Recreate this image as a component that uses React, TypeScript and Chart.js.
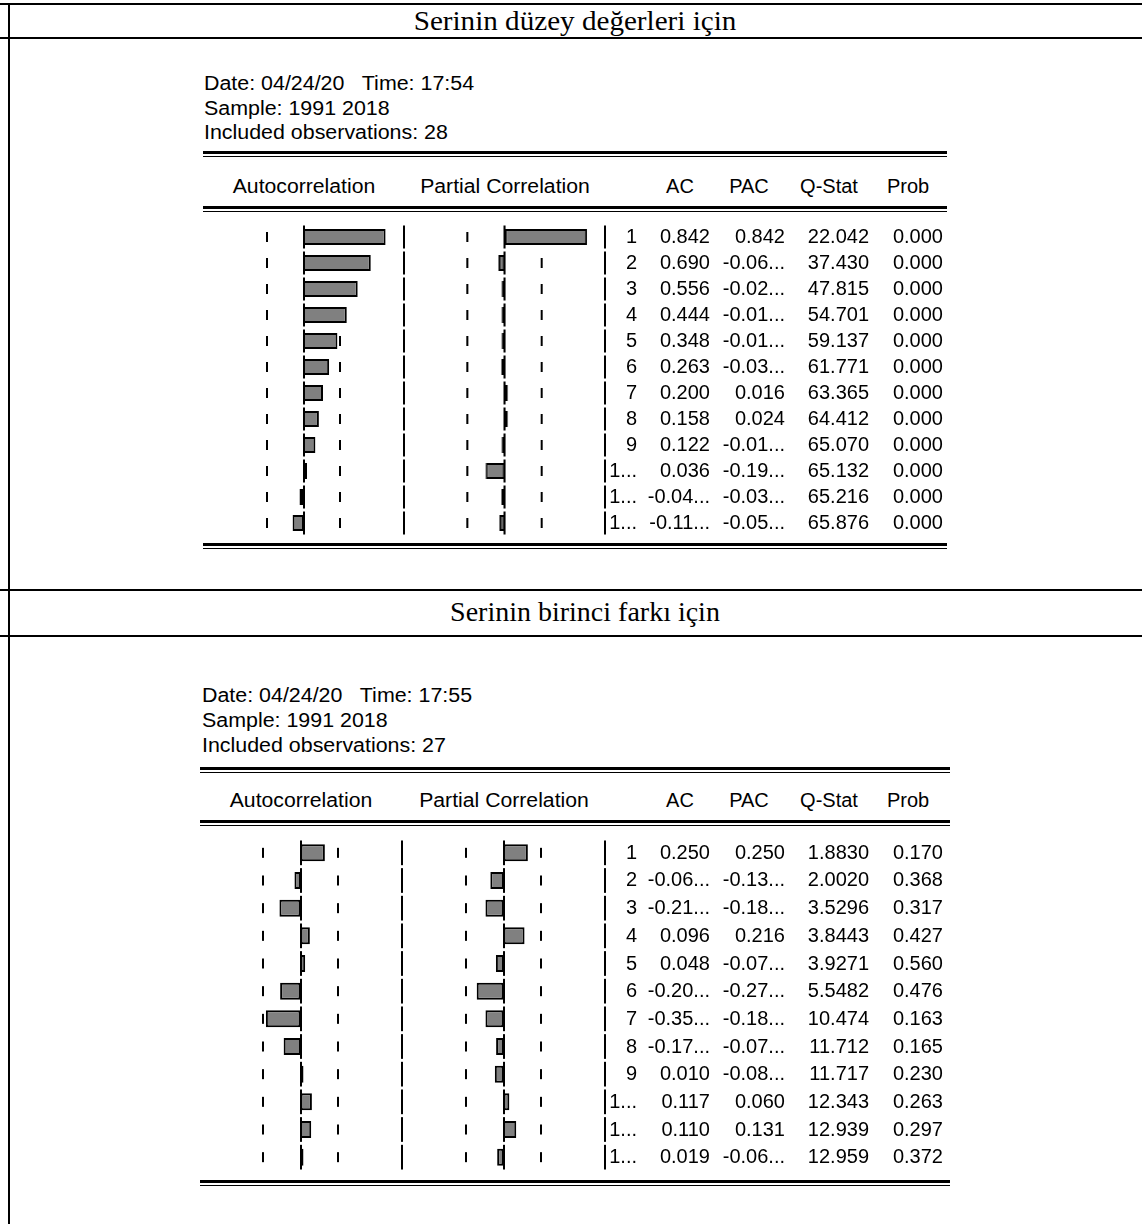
import React, { useEffect, useRef } from "react";
import { Chart, registerables } from "chart.js";

Chart.register(...registerables);

// ---------- data ----------
const lags = [1, 2, 3, 4, 5, 6, 7, 8, 9, 10, 11, 12];
const lagLabels = ["1", "2", "3", "4", "5", "6", "7", "8", "9", "1...", "1...", "1..."];

// Table 1: levels (n = 28)
const ac1 = [0.842, 0.69, 0.556, 0.444, 0.348, 0.263, 0.2, 0.158, 0.122, 0.036, -0.041, -0.112];
const pac1 = [0.842, -0.065, -0.025, -0.012, -0.013, -0.035, 0.016, 0.024, -0.014, -0.195, -0.034, -0.055];
const acText1 = ["0.842", "0.690", "0.556", "0.444", "0.348", "0.263", "0.200", "0.158", "0.122", "0.036", "-0.04...", "-0.11..."];
const pacText1 = ["0.842", "-0.06...", "-0.02...", "-0.01...", "-0.01...", "-0.03...", "0.016", "0.024", "-0.01...", "-0.19...", "-0.03...", "-0.05..."];
const qStat1 = ["22.042", "37.430", "47.815", "54.701", "59.137", "61.771", "63.365", "64.412", "65.070", "65.132", "65.216", "65.876"];
const prob1 = ["0.000", "0.000", "0.000", "0.000", "0.000", "0.000", "0.000", "0.000", "0.000", "0.000", "0.000", "0.000"];
const bound1 = 0.378;

// Table 2: first difference (n = 27)
const ac2 = [0.25, -0.062, -0.216, 0.096, 0.048, -0.209, -0.355, -0.173, 0.01, 0.117, 0.11, 0.019];
const pac2 = [0.25, -0.135, -0.185, 0.216, -0.078, -0.275, -0.185, -0.076, -0.089, 0.06, 0.131, -0.065];
const acText2 = ["0.250", "-0.06...", "-0.21...", "0.096", "0.048", "-0.20...", "-0.35...", "-0.17...", "0.010", "0.117", "0.110", "0.019"];
const pacText2 = ["0.250", "-0.13...", "-0.18...", "0.216", "-0.07...", "-0.27...", "-0.18...", "-0.07...", "-0.08...", "0.060", "0.131", "-0.06..."];
const qStat2 = ["1.8830", "2.0020", "3.5296", "3.8443", "3.9271", "5.5482", "10.474", "11.712", "11.717", "12.343", "12.939", "12.959"];
const prob2 = ["0.170", "0.368", "0.317", "0.427", "0.560", "0.476", "0.163", "0.165", "0.230", "0.263", "0.297", "0.372"];
const bound2 = 0.385;

const headers = ["Autocorrelation", "Partial Correlation", "AC", "PAC", "Q-Stat", "Prob"];
const title1 = "Serinin düzey değerleri için";
const title2 = "Serinin birinci farkı için";
const info1 = ["Date: 04/24/20   Time: 17:54", "Sample: 1991 2018", "Included observations: 28"];
const info2 = ["Date: 04/24/20   Time: 17:55", "Sample: 1991 2018", "Included observations: 27"];

// ---------- layout ----------
const SANS = '"Liberation Sans", Arial, sans-serif';
const SERIF = '"Liberation Serif", "Times New Roman", serif';
const FS = 20;

type Layout = {
  infoX: number; infoY: number[]; topDbl: number; headY: number; headDbl: number;
  row0: number; pitch: number; barH: number; botDbl: number; textShift: number;
  lineL: number; lineR: number; acL: number; acZ: number; sep1: number; pacZ: number; sep2: number; unit: number;
};

const L1: Layout = {
  infoX: 204, infoY: [83, 108, 132], topDbl: 151, headY: 186, headDbl: 206,
  row0: 237, pitch: 26, barH: 16, botDbl: 543, textShift: -1,
  lineL: 203, lineR: 947, acL: 203, acZ: 303.5, sep1: 405, pacZ: 504.5, sep2: 605.5, unit: 97.5,
};
const L2: Layout = {
  infoX: 202, infoY: [695, 720, 745], topDbl: 767, headY: 800, headDbl: 820,
  row0: 852.7, pitch: 27.7, barH: 17, botDbl: 1180, textShift: -1,
  lineL: 200, lineR: 950, acL: 200, acZ: 300.5, sep1: 403, pacZ: 503.5, sep2: 606, unit: 97.5,
};

type ColProps = {
  values: number[]; bound: number; left: number; width: number; top: number; height: number;
  zero: number; unit: number; barH: number; pitch: number;
};

function BarColumn(p: ColProps) {
  const ref = useRef<HTMLCanvasElement | null>(null);
  useEffect(() => {
    if (!ref.current) return;
    const min = -(p.zero - p.left) / p.unit;
    const max = (p.left + p.width - p.zero) / p.unit;
    const seg = p.pitch - 3;
    const guide = {
      id: "guide",
      beforeDatasetsDraw(chart: any) {
        const ctx = chart.ctx;
        const xs = chart.scales.x;
        const ys = chart.scales.y;
        ctx.save();
        ctx.fillStyle = "#000";
        lags.forEach((_, i) => {
          const cy = ys.getPixelForValue(i);
          const x0 = xs.getPixelForValue(0);
          ctx.fillRect(Math.round(x0) - 1, cy - seg / 2, 2, seg);
          const xl = xs.getPixelForValue(-p.bound);
          const xr = xs.getPixelForValue(p.bound);
          ctx.fillRect(Math.round(xl) - 1, cy - 5, 2, 10);
          ctx.fillRect(Math.round(xr) - 1, cy - 5, 2, 10);
          ctx.fillRect(chart.chartArea.right - 2, cy - seg / 2, 2, seg);
        });
        ctx.restore();
      },
    };
    const chart = new Chart(ref.current, {
      type: "bar",
      data: {
        labels: lags.map(String),
        datasets: [
          {
            data: p.values,
            backgroundColor: "#808080",
            borderColor: "#000000",
            borderWidth: 2,
            borderSkipped: false,
            barThickness: p.barH,
            minBarLength: 3,
            inflateAmount: 0,
          } as any,
        ],
      },
      options: {
        indexAxis: "y",
        responsive: false,
        maintainAspectRatio: false,
        animation: false,
        events: [],
        layout: { padding: 0 },
        plugins: { legend: { display: false }, tooltip: { enabled: false } },
        scales: {
          x: { type: "linear", min, max, display: false },
          y: { type: "category", display: false, offset: true },
        },
      },
      plugins: [guide],
    });
    return () => chart.destroy();
  }, []);
  return (
    <canvas
      ref={ref}
      width={p.width}
      height={p.height}
      style={{ position: "absolute", left: p.left, top: p.top, width: p.width, height: p.height }}
    />
  );
}

function HLine({ x1, x2, y, h }: { x1: number; x2: number; y: number; h: number }) {
  return <div style={{ position: "absolute", left: x1, top: y, width: x2 - x1, height: h, background: "#000" }} />;
}

function Txt({ s, x, y, align, font, size, sx }: {
  s: string; x: number; y: number; align: "left" | "right" | "center"; font?: string; size?: number; sx?: number;
}) {
  const w = 500;
  const left = align === "left" ? x : align === "right" ? x - w : x - w / 2;
  return (
    <div
      style={{
        position: "absolute", left, top: y - 15, width: w, height: 30, lineHeight: "30px",
        textAlign: align, fontFamily: font || SANS, fontSize: size || FS, color: "#000",
        whiteSpace: "pre",
        transform: sx ? `scaleX(${sx})` : undefined,
        transformOrigin: align === "left" ? "left center" : align === "right" ? "right center" : "center center",
      }}
    >
      {s}
    </div>
  );
}

function Table({ L, ac, pac, acT, pacT, q, pr, bound, info }: {
  L: Layout; ac: number[]; pac: number[]; acT: string[]; pacT: string[]; q: string[]; pr: string[]; bound: number; info: string[];
}) {
  const top = L.row0 - L.pitch / 2;
  const height = Math.round(L.pitch * lags.length);
  const colRight = [637, 710, 785, 869, 943];
  const headX = [L.acZ, L.pacZ, 680, 749, 829, 908];
  return (
    <>
      {info.map((s, i) => (
        <Txt key={"i" + i} s={s} x={L.infoX} y={L.infoY[i]} align="left" sx={1.07} />
      ))}
      <HLine x1={L.lineL} x2={L.lineR} y={L.topDbl} h={2.5} />
      <HLine x1={L.lineL} x2={L.lineR} y={L.topDbl + 4.5} h={1.5} />
      {headers.map((h, i) => (
        <Txt key={"h" + i} s={h} x={headX[i]} y={L.headY} align="center" sx={i < 2 ? 1.06 : 1} />
      ))}
      <HLine x1={L.lineL} x2={L.lineR} y={L.headDbl} h={2.5} />
      <HLine x1={L.lineL} x2={L.lineR} y={L.headDbl + 4.5} h={1.5} />
      <BarColumn values={ac} bound={bound} left={L.acL} width={L.sep1 - L.acL} top={top} height={height}
        zero={L.acZ} unit={L.unit} barH={L.barH} pitch={L.pitch} />
      <BarColumn values={pac} bound={bound} left={L.sep1} width={L.sep2 - L.sep1} top={top} height={height}
        zero={L.pacZ} unit={L.unit} barH={L.barH} pitch={L.pitch} />
      {lags.map((_, i) => {
        const y = L.row0 + i * L.pitch + L.textShift;
        return (
          <React.Fragment key={"r" + i}>
            <Txt s={lagLabels[i]} x={colRight[0]} y={y} align="right" />
            <Txt s={acT[i]} x={colRight[1]} y={y} align="right" />
            <Txt s={pacT[i]} x={colRight[2]} y={y} align="right" />
            <Txt s={q[i]} x={colRight[3]} y={y} align="right" />
            <Txt s={pr[i]} x={colRight[4]} y={y} align="right" />
          </React.Fragment>
        );
      })}
      <HLine x1={L.lineL} x2={L.lineR} y={L.botDbl} h={2.5} />
      <HLine x1={L.lineL} x2={L.lineR} y={L.botDbl + 4.5} h={1.5} />
    </>
  );
}

export default function App() {
  useEffect(() => {
    document.documentElement.style.overflow = "hidden";
    document.body.style.margin = "0";
  }, []);
  return (
    <div style={{ position: "absolute", left: 0, top: 0, width: 1142, height: 1224, background: "#fff", overflow: "hidden" }}>
      <HLine x1={0} x2={1142} y={3} h={2} />
      <HLine x1={0} x2={1142} y={37} h={2} />
      <HLine x1={0} x2={1142} y={589} h={2} />
      <HLine x1={0} x2={1142} y={635} h={2} />
      <div style={{ position: "absolute", left: 8, top: 3, width: 1.5, height: 1221, background: "#000" }} />
      <Txt s={title1} x={575} y={21} align="center" font={SERIF} size={28} sx={1.04} />
      <Txt s={title2} x={585} y={612} align="center" font={SERIF} size={28} />
      <Table L={L1} ac={ac1} pac={pac1} acT={acText1} pacT={pacText1} q={qStat1} pr={prob1} bound={bound1} info={info1} />
      <Table L={L2} ac={ac2} pac={pac2} acT={acText2} pacT={pacText2} q={qStat2} pr={prob2} bound={bound2} info={info2} />
    </div>
  );
}
